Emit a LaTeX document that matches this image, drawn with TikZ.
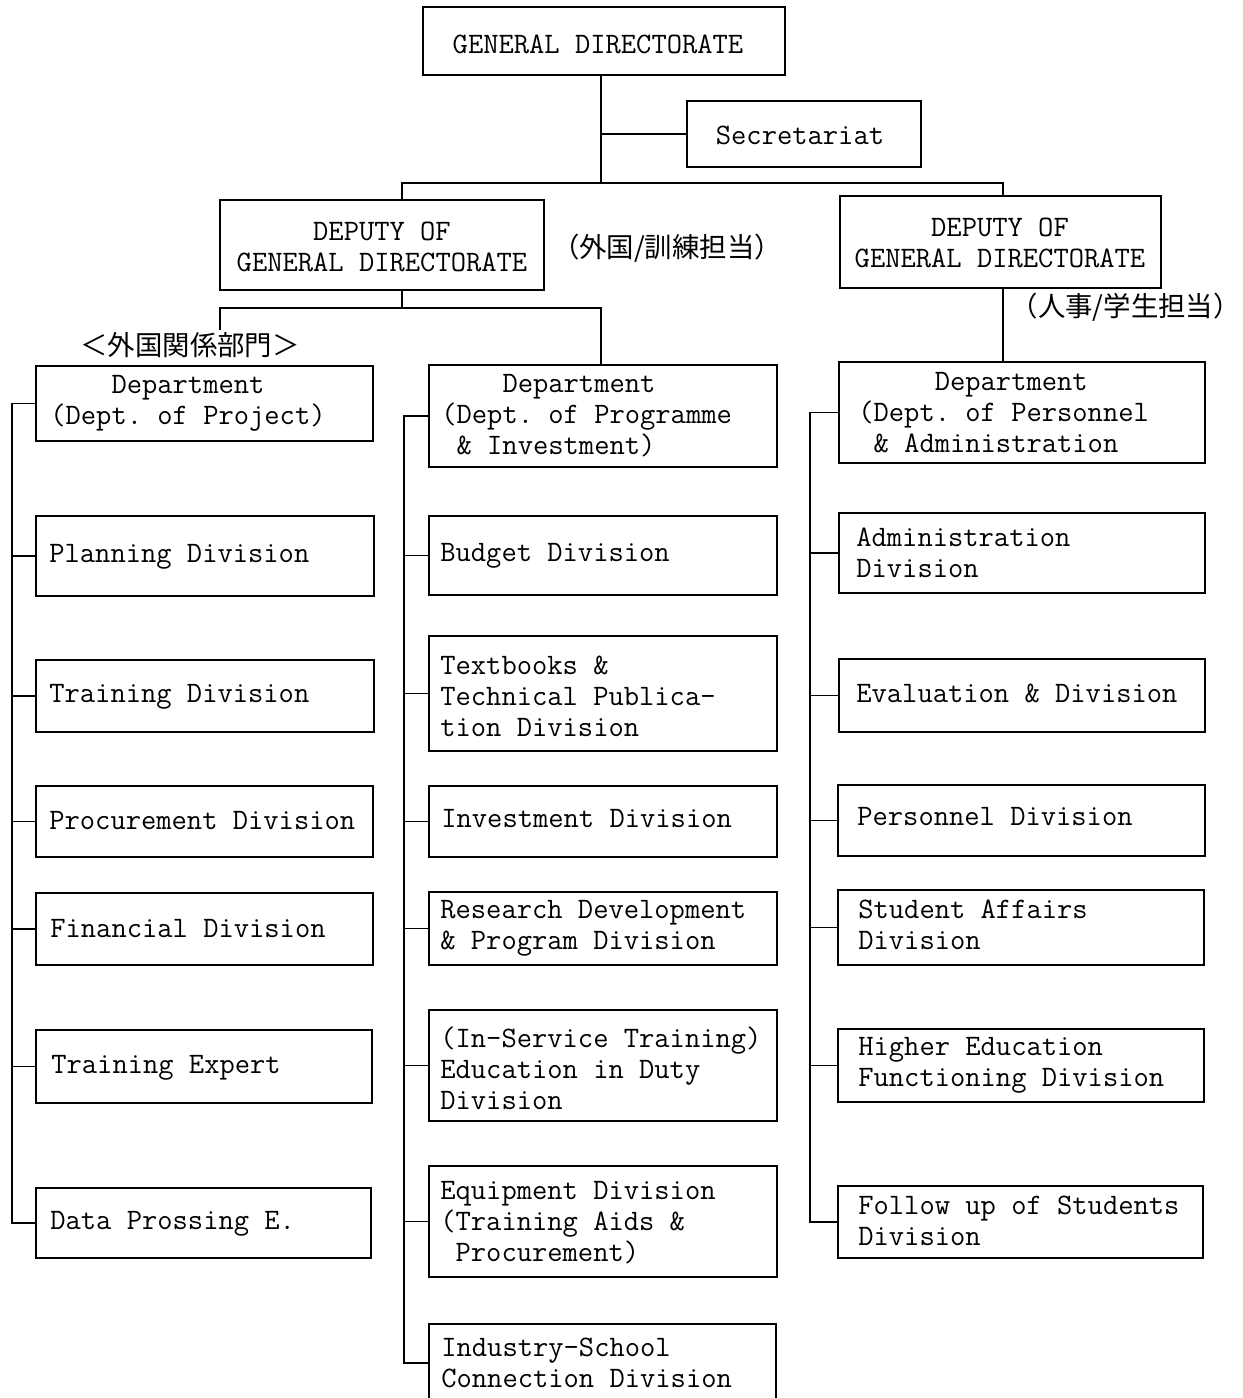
\documentclass[tikz,border=0pt]{standalone}
\usepackage{fontspec}
\newfontfamily\jp{Noto Sans CJK JP}
\usetikzlibrary{fit}
\frenchspacing
\begin{document}
\begin{tikzpicture}[x=0.02cm,y=-0.02cm,
  box/.style={draw, line width=1.1pt, inner sep=0pt},
  txt/.style={font=\ttfamily\fontsize{16.9}{17.6}\selectfont, inner sep=0pt, align=left, anchor=west},
  ctxt/.style={font=\ttfamily\fontsize{16.9}{17.4}\selectfont, inner sep=0pt, align=center},
  jlab/.style={font=\jp\fontsize{15.6}{18}\selectfont, inner sep=0pt},
  link/.style={line width=1.1pt}]
\useasboundingbox (0,0) rectangle (1242,1398);

% top level
\node[box, fit={(423,7) (785,75)}] (gd) {};
\node[ctxt] at (598,44) {GENERAL DIRECTORATE};
\node[box, fit={(687,101) (921,167)}] (sec) {};
\node[ctxt] at (800,135) {Secretariat};

% deputies
\node[box, fit={(220,200) (544,290)}] (dl) {};
\node[ctxt] at (382,247) {DEPUTY OF\\GENERAL DIRECTORATE};
\node[box, fit={(840,196) (1161,288)}] (dr) {};
\node[ctxt] at (1000,243) {DEPUTY OF\\GENERAL DIRECTORATE};

\node[jlab] (jl1) at (667,248) {（外国/訓練担当）};
\node[jlab, anchor=east] (jl2) at (1241,307) {（人事/学生担当）};
\node[jlab] (jl3) at (190,345) {＜外国関係部門＞};

% departments
\node[box, fit={(36,366) (373,441)}] (proj) {};
\node[txt] at (50,403) {\phantom{xxxx}Department\\(Dept. of Project)};
\node[box, fit={(429,365) (777,467)}] (prog) {};
\node[txt] at (441,416) {\phantom{xxxx}Department\\(Dept. of Programme\\\phantom{x}\& Investment)};
\node[box, fit={(839,362) (1205,463)}] (pers) {};
\node[txt] at (858,413) {\phantom{xxxxx}Department\\(Dept. of Personnel\\\phantom{x}\& Administration};

% left column
\node[box, fit={(36,516) (374,596)}] (plan) {};
\node[txt] at (49,557) {Planning Division};
\node[box, fit={(36,660) (374,732)}] (train) {};
\node[txt] at (49,697) {Training Division};
\node[box, fit={(36,786) (373,857)}] (procu) {};
\node[txt] at (49,821) {Procurement Division};
\node[box, fit={(36,893) (373,965)}] (fin) {};
\node[txt] at (50,929) {Financial Division};
\node[box, fit={(36,1030) (372,1103)}] (texp) {};
\node[txt] at (51,1068) {Training Expert};
\node[box, fit={(36,1188) (371,1258)}] (data) {};
\node[txt] at (50,1224) {Data Prossing E.};

% middle column
\node[box, fit={(429,516) (777,595)}] (bud) {};
\node[txt] at (440,556) {Budget Division};
\node[box, fit={(429,636) (777,751)}] (tbk) {};
\node[txt] at (440,696) {Textbooks \&\\Technical Publica-\\tion Division};
\node[box, fit={(429,786) (777,857)}] (inv) {};
\node[txt] at (441,819) {Investment Division};
\node[box, fit={(429,892) (777,965)}] (res) {};
\node[txt] at (440,928) {Research Development\\\& Program Division};
\node[box, fit={(429,1010) (777,1121)}] (insv) {};
\node[txt] at (440,1068) {(In-Service Training)\\Education in Duty\\Division};
\node[box, fit={(429,1166) (777,1277)}] (equip) {};
\node[txt] at (440,1223) {Equipment Division\\(Training Aids \&\\\phantom{x}Procurement)};
\node[box, fit={(429,1324) (776,1402)}] (ind) {};
\node[txt] at (441,1363) {Industry-School\\Connection Division};

% right column
\node[box, fit={(839,513) (1205,593)}] (adm) {};
\node[txt] at (856,553) {Administration\\Division};
\node[box, fit={(839,659) (1205,732)}] (eval) {};
\node[txt] at (856,693) {Evaluation \& Division};
\node[box, fit={(838,785) (1205,856)}] (pdiv) {};
\node[txt] at (857,817) {Personnel Division};
\node[box, fit={(838,890) (1204,965)}] (stud) {};
\node[txt] at (858,925) {Student Affairs\\Division};
\node[box, fit={(838,1029) (1204,1102)}] (high) {};
\node[txt] at (858,1065) {Higher Education\\Functioning Division};
\node[box, fit={(838,1186) (1203,1258)}] (foll) {};
\node[txt] at (858,1221) {Follow up of Students\\Division};

% junction points
\coordinate (j1) at (601,183);
\coordinate (bl) at (402,183);
\coordinate (br) at (1003,183);
\coordinate (j2) at (402,308);
\coordinate (j3) at (601,308);
\coordinate (stub) at (220,330);
\coordinate (sL) at (12,0);
\coordinate (sM) at (404,0);
\coordinate (sR) at (810,0);

% upper connectors
\draw[link] (gd.south -| j1) -- (j1);
\draw[link] (sec.west) -- (sec.west -| j1);
\draw[link] (dl.north -| bl) -- (bl) -- (br) -- (dr.north -| br);
\draw[link] (dl.south -| j2) -- (j2);
\draw[link] (stub) |- (j3) -- (prog.north -| j3);
\draw[link] (dr.south -| br) -- (pers.north -| br);

% spines
\draw[link] (proj.west) -- (proj.west -| sL) -- (data.west -| sL) -- (data.west);
\foreach \n in {plan,train,procu,fin,texp}
  \draw[link] (\n.west) -- (\n.west -| sL);
\draw[link] (prog.west) -- (prog.west -| sM) -- (ind.west -| sM) -- (ind.west);
\foreach \n in {bud,tbk,inv,res,insv,equip}
  \draw[link] (\n.west) -- (\n.west -| sM);
\draw[link] (pers.west) -- (pers.west -| sR) -- (foll.west -| sR) -- (foll.west);
\foreach \n in {adm,eval,pdiv,stud,high}
  \draw[link] (\n.west) -- (\n.west -| sR);
\end{tikzpicture}
\end{document}
